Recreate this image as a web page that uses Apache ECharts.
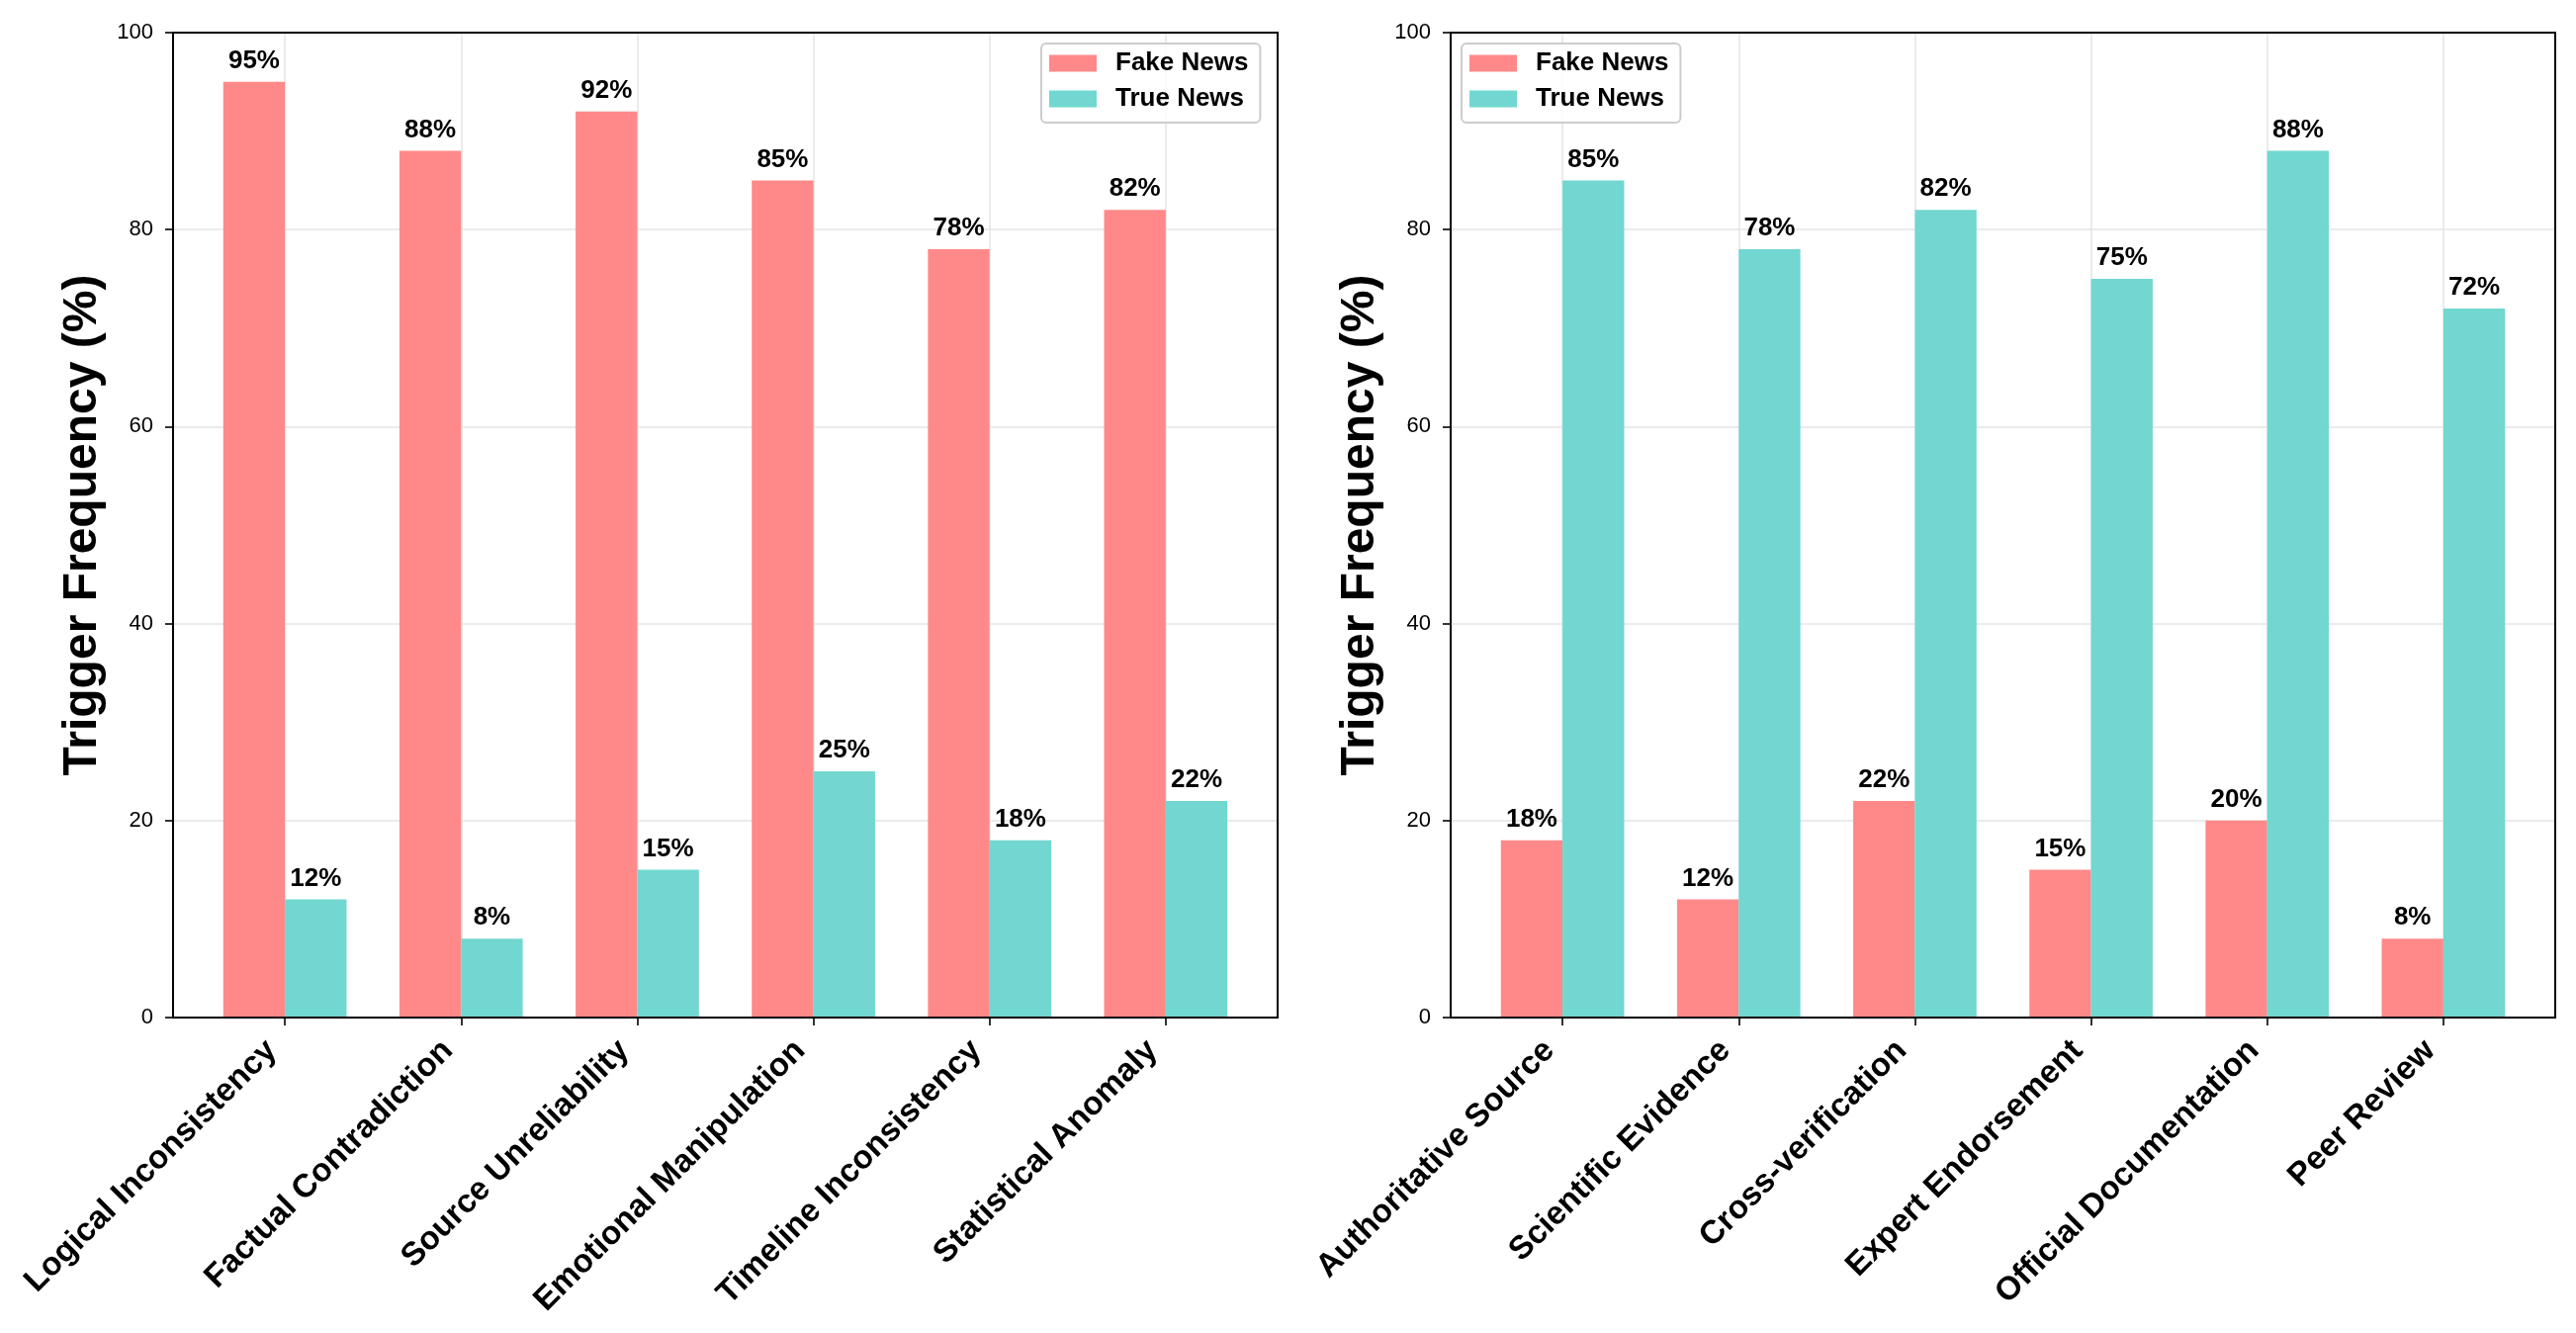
<!DOCTYPE html>
<html>
<head>
<meta charset="utf-8">
<script src="https://cdn.jsdelivr.net/npm/echarts@6/dist/echarts.min.js"></script>
<style>
  html, body { margin: 0; padding: 0; background: #ffffff; }
  #chart { width: 2605px; height: 1348px; }
</style>
</head>
<body>
<div id="chart"></div>
<script>
// ---- data ----
const leftCategories = ['Logical Inconsistency', 'Factual Contradiction', 'Source Unreliability', 'Emotional Manipulation', 'Timeline Inconsistency', 'Statistical Anomaly'];
const leftFake = [95, 88, 92, 85, 78, 82];
const leftTrue = [12, 8, 15, 25, 18, 22];

const rightCategories = ['Authoritative Source', 'Scientific Evidence', 'Cross-verification', 'Expert Endorsement', 'Official Documentation', 'Peer Review'];
const rightFake = [18, 12, 22, 15, 20, 8];
const rightTrue = [85, 78, 82, 75, 88, 72];

const seriesNames = ['Fake News', 'True News'];
const yTicks = { min: 0, max: 100, interval: 20 };
const yTitle = 'Trigger Frequency (%)';

// ---- style ----
const FONT = "'Liberation Sans', Arial, Helvetica, sans-serif";
const FAKE_COLOR = '#FF8989';
const TRUE_COLOR = '#71D7D0';
const GRID_COLOR = '#e4e4e4';

// layout (pixels)
const TOP = 33, HEIGHT = 996;
const PLOT_W = 1117;
const PLOTS_LEFT = [175, 1467];
const CAT_STEP = PLOT_W / 6.27;       // matplotlib-like x limits (-0.635 .. 5.635)
const CAT_OFFSET = 0.635 * CAT_STEP;

const chart = echarts.init(document.getElementById('chart'));

const grids = [], xAxes = [], yAxes = [], series = [], legends = [];

function addPlot(idx, cats, fake, tru, legendLeft) {
  const left = PLOTS_LEFT[idx];
  const gFrame = grids.length;
  grids.push({ left: left, top: TOP, width: PLOT_W, height: HEIGHT, show: true,
               borderColor: '#000', borderWidth: 2, backgroundColor: 'transparent', z: 10 });
  const gBars = grids.length;
  grids.push({ left: left + CAT_OFFSET, top: TOP, width: 5 * CAT_STEP, height: HEIGHT, containLabel: false });

  xAxes.push({ gridIndex: gFrame, type: 'value', show: false, min: 0, max: 1 });
  const xBars = xAxes.length;
  xAxes.push({
    gridIndex: gBars, type: 'category', data: cats, boundaryGap: false,
    axisLine: { show: false },
    axisTick: { show: true, length: 8, inside: false, interval: 0, lineStyle: { color: '#000', width: 1.6 } },
    splitLine: { show: true, interval: 0, lineStyle: { color: GRID_COLOR, width: 1.5 } },
    axisLabel: { show: true, interval: 0, rotate: 45, margin: 15, padding: [0, 19, 0, 0],
                 fontFamily: FONT, fontSize: 33, fontWeight: 'bold', color: '#000' }
  });

  yAxes.push({
    gridIndex: gFrame, type: 'value', min: yTicks.min, max: yTicks.max, interval: yTicks.interval,
    axisLine: { show: false },
    axisTick: { show: true, length: 8, inside: false, lineStyle: { color: '#000', width: 1.6 } },
    axisLabel: { margin: 20, fontFamily: FONT, fontSize: 22, color: '#000' },
    splitLine: { show: true, showMinLine: false, showMaxLine: false, lineStyle: { color: GRID_COLOR, width: 1.5 } },
    name: yTitle, nameLocation: 'middle', nameGap: 67,
    nameTextStyle: { fontFamily: FONT, fontSize: 48, fontWeight: 'bold', color: '#000' }
  });
  const yBars = yAxes.length;
  yAxes.push({ gridIndex: gBars, type: 'value', min: yTicks.min, max: yTicks.max, show: false });

  const labelCfg = { show: true, position: 'top', distance: 8, formatter: '{c}%',
                     fontFamily: FONT, fontSize: 26, fontWeight: 'bold', color: '#000' };
  series.push({ name: seriesNames[0], type: 'bar', xAxisIndex: xBars, yAxisIndex: yBars, data: fake,
                barWidth: '35%', barGap: '0%', clip: false,
                itemStyle: { color: FAKE_COLOR }, label: labelCfg, emphasis: { disabled: true } });
  series.push({ name: seriesNames[1], type: 'bar', xAxisIndex: xBars, yAxisIndex: yBars, data: tru,
                barWidth: '35%', barGap: '0%', clip: false,
                itemStyle: { color: TRUE_COLOR }, label: labelCfg, emphasis: { disabled: true } });

  legends.push({
    data: seriesNames, orient: 'vertical', left: legendLeft, top: 44,
    icon: 'rect', itemWidth: 48, itemHeight: 17, itemGap: 10,
    padding: [7, 12, 11, 8],
    backgroundColor: 'rgba(255,255,255,0.85)', borderColor: '#cccccc', borderWidth: 2, borderRadius: 5,
    textStyle: { fontFamily: FONT, fontSize: 26, fontWeight: 'bold', color: '#000', lineHeight: 26, padding: [0, 0, 0, 14] },
    selectedMode: false, z: 20
  });
}

addPlot(0, leftCategories, leftFake, leftTrue, 1053);
addPlot(1, rightCategories, rightFake, rightTrue, 1478);

chart.setOption({
  backgroundColor: '#ffffff',
  animation: false,
  grid: grids,
  xAxis: xAxes,
  yAxis: yAxes,
  legend: legends,
  series: series
});
</script>
</body>
</html>
